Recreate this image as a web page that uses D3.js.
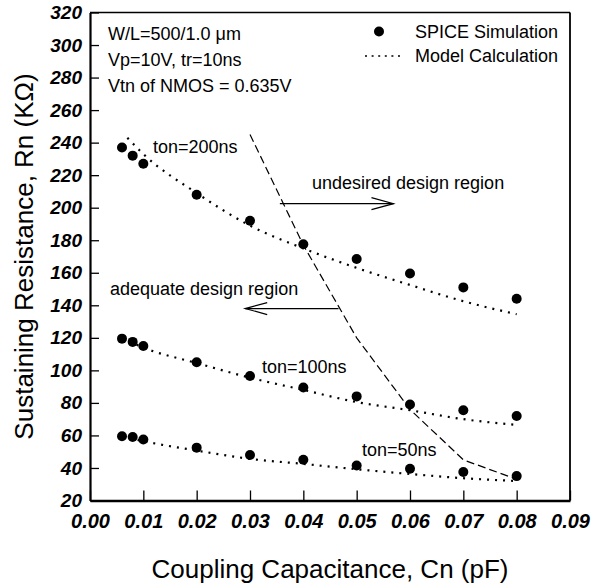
<!DOCTYPE html>
<html><head><meta charset="utf-8">
<script src="https://cdn.jsdelivr.net/npm/d3@7"></script>
<style>body{margin:0;background:#fff}svg{display:block}</style>
</head><body>
<svg id="c" width="594" height="585"></svg>
<script>
// ---- data ----
const xTickValues = [0.00,0.01,0.02,0.03,0.04,0.05,0.06,0.07,0.08,0.09];
const yTickValues = [20,40,60,80,100,120,140,160,180,200,220,240,260,280,300,320];
const spiceX = [0.006,0.008,0.01,0.02,0.03,0.04,0.05,0.06,0.07,0.08];
const spice200 = [237,232,227,208,192,177.5,168.5,159.5,151,144];
const spice100 = [119.5,117.5,115,105,96.5,89.5,84,79,75.5,72];
const spice50  = [59.5,59,57.5,52.5,48,45,41.5,39.5,37.5,35];
const model200X = [0.007,0.01,0.02,0.03,0.04,0.05,0.06,0.07,0.08];
const model200  = [243,233,209,189,175,163,152.5,142.5,134.5];
const modelX    = [0.006,0.01,0.02,0.03,0.04,0.05,0.06,0.07,0.08];
const model100  = [120,114,104.5,95.5,88,80.5,75.5,70,66.5];
const model50   = [59.5,56.5,50.7,45.6,42.5,39.2,36.3,33.7,32];
const boundX = [0.03,0.04,0.05,0.06,0.07,0.08];
const boundY = [245,177,120,76,45,33];
const seriesLabels = ["ton=200ns","ton=100ns","ton=50ns"];
const infoLines = ["W/L=500/1.0 \u03bcm","Vp=10V, tr=10ns","Vtn of NMOS = 0.635V"];
const legendLabels = ["SPICE Simulation","Model Calculation"];
const regionLabels = ["undesired design region","adequate design region"];
const xTitle = "Coupling Capacitance, Cn (pF)";
const yTitle = "Sustaining Resistance, Rn (K\u03a9)";

// ---- layout ----
const svg = d3.select("#c");
const L=90, R=570, T=12.5, B=500.5;
const x = d3.scaleLinear().domain([0,0.09]).range([L,R]);
const y = d3.scaleLinear().domain([20,320]).range([B,T]);
const font = "'Liberation Sans', Arial, Helvetica, sans-serif";

// frame top/right
svg.append("line").attr("x1",L).attr("x2",R).attr("y1",T).attr("y2",T).attr("stroke","#000").attr("stroke-width",1.5);
svg.append("line").attr("x1",R).attr("x2",R).attr("y1",T).attr("y2",B).attr("stroke","#000").attr("stroke-width",1.8);

// axes
const ya = svg.append("g").attr("transform",`translate(${L},0)`)
  .call(d3.axisLeft(y).tickValues(yTickValues).tickFormat(d3.format("d")).tickSizeInner(-9).tickSizeOuter(0).tickPadding(8));
const xa = svg.append("g").attr("transform",`translate(0,${B})`)
  .call(d3.axisBottom(x).tickValues(xTickValues).tickFormat(d3.format(".2f")).tickSizeInner(-10).tickSizeOuter(0).tickPadding(13));
[ya,xa].forEach(g=>{
  g.selectAll("text").attr("font-family",font).attr("font-weight","bold").attr("font-style","italic").attr("fill","#000");
  g.selectAll(".tick line").attr("stroke","#000").attr("stroke-width",1.3);
});
ya.selectAll("text").attr("font-size",19);
xa.selectAll("text").attr("font-size",20);
ya.select(".domain").attr("stroke","#000").attr("stroke-width",2.2);
xa.select(".domain").attr("stroke","#000").attr("stroke-width",2.5);

// titles
svg.append("text").attr("x",(L+R)/2).attr("y",578).attr("text-anchor","middle")
  .attr("font-family",font).attr("font-size",26).text(xTitle);
svg.append("text").attr("transform",`translate(33,${(T+B)/2}) rotate(-90)`).attr("text-anchor","middle")
  .attr("font-family",font).attr("font-size",26).text(yTitle);

// model lines (dotted)
const line = d3.line().curve(d3.curveMonotoneX);
const models = [[model200X,model200],[modelX,model100],[modelX,model50]];
models.forEach(([xs,ys])=>{
  svg.append("path").attr("d",line(xs.map((v,i)=>[x(v),y(ys[i])])))
    .attr("fill","none").attr("stroke","#000").attr("stroke-width",2.2).attr("stroke-dasharray","2,6");
});

// boundary dashed line
svg.append("path").attr("d",d3.line()(boundX.map((v,i)=>[x(v),y(boundY[i])])))
  .attr("fill","none").attr("stroke","#000").attr("stroke-width",1.2).attr("stroke-dasharray","8,4");

// SPICE dots
[spice200,spice100,spice50].forEach(s=>{
  svg.append("g").selectAll("circle").data(s).join("circle")
    .attr("cx",(d,i)=>x(spiceX[i])).attr("cy",d=>y(d)).attr("r",5).attr("fill","#000");
});

// text annotations
const txt = (s,xx,yy,anchor="start",size=18)=>svg.append("text").attr("x",xx).attr("y",yy)
  .attr("text-anchor",anchor).attr("font-family",font).attr("font-size",size).attr("fill","#000").text(s);
infoLines.forEach((s,i)=>txt(s,108,39.5+i*26));
txt(seriesLabels[0],153,153);
txt(seriesLabels[1],262,373);
txt(seriesLabels[2],362,456);
txt(regionLabels[0],312,189);
txt(regionLabels[1],110,295);

// legend
svg.append("circle").attr("cx",379).attr("cy",31.5).attr("r",5).attr("fill","#000");
txt(legendLabels[0],415,38);
svg.append("line").attr("x1",365).attr("x2",400).attr("y1",56).attr("y2",56)
  .attr("stroke","#000").attr("stroke-width",1.6).attr("stroke-dasharray","2,4.6");
txt(legendLabels[1],415,62);

// arrows
function arrow(x1,x2,yy){
  const g = svg.append("g").attr("stroke","#000").attr("stroke-width",1.2).attr("fill","none");
  const a=x(x1), b=x(x2), py=y(yy), dir = b>a?1:-1;
  g.append("line").attr("x1",a).attr("x2",b).attr("y1",py).attr("y2",py);
  g.append("polyline").attr("points",`${b-dir*22},${py-6} ${b},${py} ${b-dir*22},${py+6}`);
}
arrow(0.0356,0.0569,202.5);
arrow(0.0466,0.0291,138);
</script>
</body></html>
